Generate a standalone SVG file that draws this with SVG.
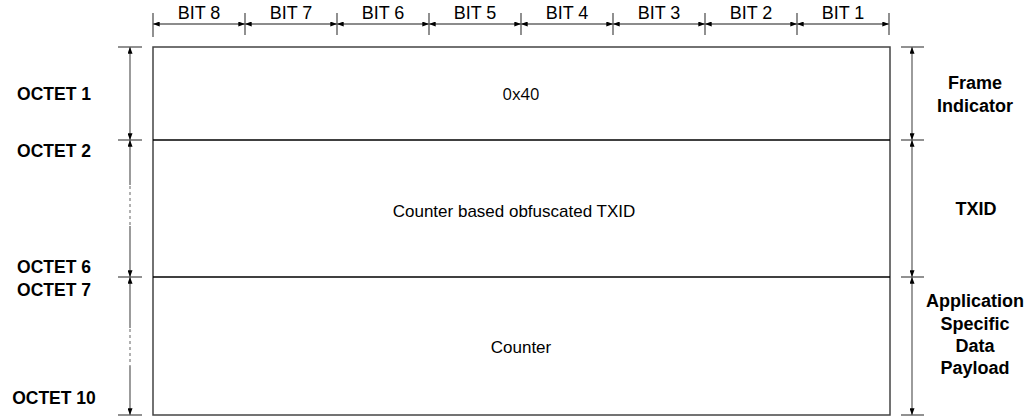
<svg xmlns="http://www.w3.org/2000/svg" width="1031" height="419" viewBox="0 0 1031 419">
<style>
.t{font-family:"Liberation Sans",Arial,sans-serif;font-size:17px;fill:#000}
.bit{font-size:18px}
.b{font-family:"Liberation Sans",Arial,sans-serif;font-size:17.5px;font-weight:bold;fill:#000}
.r{font-size:18px}
.dim{stroke:#666;stroke-width:1.3;fill:none;marker-start:url(#ah);marker-end:url(#ah)}
.tick{stroke:#555;stroke-width:1.3}
.frame{stroke:#444;stroke-width:1.5;fill:none}
.div{stroke:#000;stroke-width:1.3}
.gap{stroke:#fff;stroke-width:3}
.dash{stroke:#888;stroke-width:1.3;stroke-dasharray:3 3}
</style>
<defs>
<marker id="ah" viewBox="0 0 8 6" refX="8" refY="3" markerWidth="7" markerHeight="5" markerUnits="userSpaceOnUse" orient="auto-start-reverse">
<path d="M0,0 L8,3 L0,6 z" fill="#000"/>
</marker>
</defs>
<g id="connectors">
<line class="tick" x1="153" y1="13" x2="153" y2="37"/>
<line class="tick" x1="245" y1="13" x2="245" y2="35"/>
<line class="tick" x1="337" y1="13" x2="337" y2="35"/>
<line class="tick" x1="429" y1="13" x2="429" y2="35"/>
<line class="tick" x1="521" y1="13" x2="521" y2="35"/>
<line class="tick" x1="613" y1="13" x2="613" y2="35"/>
<line class="tick" x1="705" y1="13" x2="705" y2="35"/>
<line class="tick" x1="797" y1="13" x2="797" y2="35"/>
<line class="tick" x1="889" y1="13" x2="889" y2="35"/>
<line class="dim" x1="153" y1="24" x2="245" y2="24"/>
<line class="dim" x1="245" y1="24" x2="337" y2="24"/>
<line class="dim" x1="337" y1="24" x2="429" y2="24"/>
<line class="dim" x1="429" y1="24" x2="521" y2="24"/>
<line class="dim" x1="521" y1="24" x2="613" y2="24"/>
<line class="dim" x1="613" y1="24" x2="705" y2="24"/>
<line class="dim" x1="705" y1="24" x2="797" y2="24"/>
<line class="dim" x1="797" y1="24" x2="889" y2="24"/>
<line class="tick" x1="118" y1="47" x2="142" y2="47"/>
<line class="tick" x1="118" y1="140" x2="142" y2="140"/>
<line class="tick" x1="118" y1="277" x2="142" y2="277"/>
<line class="tick" x1="118" y1="415" x2="142" y2="415"/>
<line class="dim" x1="130" y1="47" x2="130" y2="140"/>
<line class="dim" x1="130" y1="140" x2="130" y2="277"/>
<line class="dim" x1="130" y1="277" x2="130" y2="415"/>
<line class="gap" x1="130" y1="185" x2="130" y2="226"/>
<line class="dash" x1="130" y1="186" x2="130" y2="226"/>
<line class="gap" x1="130" y1="328" x2="130" y2="366"/>
<line class="dash" x1="130" y1="329" x2="130" y2="366"/>
<line class="tick" x1="901" y1="47" x2="924" y2="47"/>
<line class="tick" x1="901" y1="140" x2="924" y2="140"/>
<line class="tick" x1="901" y1="277" x2="924" y2="277"/>
<line class="tick" x1="901" y1="415" x2="924" y2="415"/>
<line class="dim" x1="912" y1="47" x2="912" y2="140"/>
<line class="dim" x1="912" y1="140" x2="912" y2="277"/>
<line class="dim" x1="912" y1="277" x2="912" y2="415"/>
</g>
<g id="bit-labels">
<text class="t bit" x="199" y="19" text-anchor="middle">BIT 8</text>
<text class="t bit" x="291" y="19" text-anchor="middle">BIT 7</text>
<text class="t bit" x="383" y="19" text-anchor="middle">BIT 6</text>
<text class="t bit" x="475" y="19" text-anchor="middle">BIT 5</text>
<text class="t bit" x="567" y="19" text-anchor="middle">BIT 4</text>
<text class="t bit" x="659" y="19" text-anchor="middle">BIT 3</text>
<text class="t bit" x="751" y="19" text-anchor="middle">BIT 2</text>
<text class="t bit" x="843" y="19" text-anchor="middle">BIT 1</text>
</g>
<g id="frame">
<rect class="frame" x="153" y="47" width="737" height="368"/>
</g>
<g id="field-frame-indicator">
<text class="t" x="521" y="100" text-anchor="middle" style="font-family:'Open Sans','Liberation Sans',sans-serif;font-size:16.5px">0x40</text>
<text class="b r" x="975" y="89" text-anchor="middle">Frame</text>
<text class="b r" x="975" y="112" text-anchor="middle">Indicator</text>
</g>
<g id="field-txid">
<line class="div" x1="153" y1="140" x2="890" y2="140"/>
<text class="t" x="514" y="217" text-anchor="middle">Counter based obfuscated TXID</text>
<text class="b r" x="976" y="215" text-anchor="middle">TXID</text>
</g>
<g id="field-payload">
<line class="div" x1="153" y1="277" x2="890" y2="277"/>
<text class="t" x="521" y="353" text-anchor="middle">Counter</text>
<text class="b r" x="975" y="307" text-anchor="middle">Application</text>
<text class="b r" x="975" y="330" text-anchor="middle">Specific</text>
<text class="b r" x="975" y="352" text-anchor="middle">Data</text>
<text class="b r" x="975" y="374" text-anchor="middle">Payload</text>
</g>
<g id="octet-labels">
<text class="b" x="54" y="100" text-anchor="middle">OCTET 1</text>
<text class="b" x="54" y="157" text-anchor="middle">OCTET 2</text>
<text class="b" x="54" y="273" text-anchor="middle">OCTET 6</text>
<text class="b" x="54" y="296" text-anchor="middle">OCTET 7</text>
<text class="b" x="54" y="404" text-anchor="middle">OCTET 10</text>
</g>
</svg>
